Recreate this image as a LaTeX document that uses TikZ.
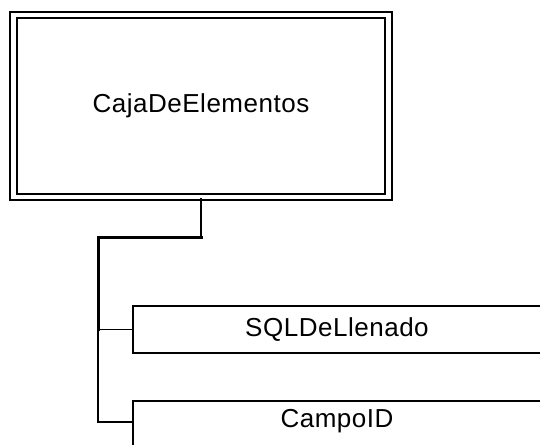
\documentclass[tikz,border=0pt]{standalone}
\usepackage{fontspec}
\setmainfont{Liberation Sans}[LetterSpace=2]
\begin{document}
\begin{tikzpicture}[x=1pt,y=-1pt,
  lbl/.style={font=\fontsize{26}{30}\selectfont},
  bigbox/.style={lbl, draw, double, line width=1.8pt, double distance=4.6pt,
    minimum width=375pt, minimum height=182pt, inner sep=0pt},
  itembox/.style={lbl, draw, line width=1.6pt, minimum width=408pt,
    minimum height=47pt, inner sep=0pt},
  thick link/.style={line width=3pt},
  thin link/.style={line width=1.6pt}]
\useasboundingbox (0,0) rectangle (540,444);
\clip (0,0) rectangle (540,444);
\node[bigbox] (caja) at (201,106) {CajaDeElementos};
\node[itembox] (sql) at (337,329.5) {SQLDeLlenado};
\node[itembox, text depth=12pt] (campo) at (337,424.5) {CampoID};
\coordinate (bus) at (98,237);
\coordinate (cbr) at ([yshift=2.5pt]campo.west);
\draw[thin link] (caja.south) -- (caja.south |- bus);
\draw[thick link, line cap=rect] (caja.south |- bus) -- (bus) -- (bus |- sql.west);
\draw[thin link] (bus |- sql.west) -- (sql.west);
\draw[line width=1.3pt] (bus |- sql.west) |- (cbr);
\end{tikzpicture}
\end{document}
